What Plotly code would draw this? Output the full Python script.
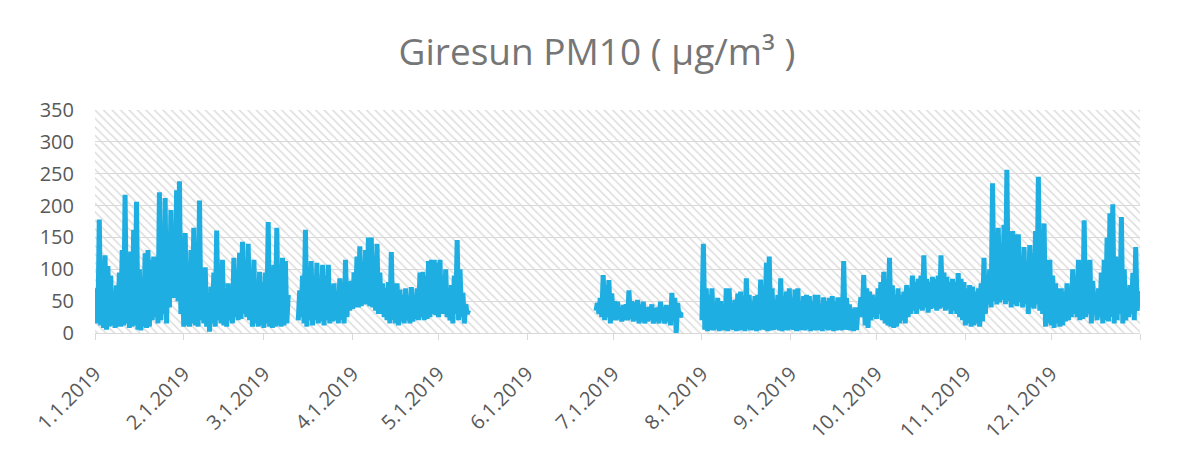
import datetime as dt
import plotly.graph_objects as go

# ---------------- data ----------------
TITLE = "Giresun PM10 ( µg/m³ )"
YEAR_START = "2019-01-01"
YEAR_END = "2020-01-01"

# first day of each measured segment
SEG_STARTS = ["2019-01-01", "2019-03-13", "2019-06-25", "2019-08-01"]

# daily upper (peak) and lower values of the hourly PM10 band, per segment
HIGH_1 = [70, 178, 60, 122, 105, 90, 40, 75, 95, 130,
          217, 70, 128, 162, 206, 100, 80, 125, 130, 115,
          120, 60, 221, 80, 212, 140, 193, 150, 224, 238,
          110, 157, 100, 130, 165, 90, 208, 70, 103, 60,
          73, 95, 161, 70, 115, 60, 78, 70, 118, 95,
          126, 143, 85, 140, 88, 115, 70, 96, 80, 95,
          174, 70, 107, 165, 60, 118, 113, 60]
LOW_1 = [15, 15, 12, 8, 5, 10, 12, 8, 10, 10,
         12, 15, 8, 10, 12, 5, 4, 10, 8, 10,
         20, 25, 15, 20, 30, 15, 40, 55, 55, 50,
         30, 10, 12, 10, 15, 12, 10, 20, 15, 10,
         2, 15, 10, 20, 15, 12, 10, 20, 15, 25,
         20, 22, 30, 25, 20, 10, 15, 10, 12, 8,
         15, 10, 8, 10, 12, 10, 12, 15]

HIGH_2 = [67, 90, 162, 70, 113, 80, 110, 85, 107, 90,
          107, 75, 78, 60, 86, 70, 115, 80, 82, 95,
          120, 136, 90, 130, 150, 150, 120, 140, 95, 78,
          70, 80, 127, 70, 78, 68, 60, 70, 55, 72,
          60, 70, 95, 96, 90, 113, 115, 115, 110, 115,
          90, 100, 68, 75, 90, 146, 100, 63, 45, 36]
LOW_2 = [20, 25, 15, 10, 20, 12, 20, 15, 18, 12,
         20, 15, 18, 20, 15, 20, 15, 25, 35, 38,
         40, 40, 42, 45, 45, 42, 40, 35, 30, 30,
         25, 20, 15, 20, 15, 12, 18, 15, 20, 15,
         18, 22, 20, 25, 20, 22, 25, 30, 28, 25,
         30, 30, 25, 20, 15, 30, 20, 25, 15, 30]

HIGH_3 = [47, 55, 91, 75, 83, 62, 50, 49, 40, 44,
          45, 67, 50, 48, 52, 45, 49, 40, 41, 45,
          39, 40, 49, 38, 44, 42, 63, 55, 47, 30,
          28]
LOW_3 = [35, 30, 25, 20, 25, 15, 20, 20, 22, 18,
         20, 20, 22, 18, 20, 15, 18, 15, 18, 20,
         15, 18, 15, 20, 15, 18, 12, 20, 0, 25,
         28]

HIGH_4 = [140, 70, 60, 70, 44, 55, 50, 45, 70, 70,
          45, 52, 62, 65, 50, 86, 60, 50, 58, 60,
          84, 60, 110, 120, 70, 52, 60, 86, 55, 65,
          70, 55, 68, 70, 50, 58, 60, 58, 50, 60,
          60, 45, 56, 50, 55, 58, 50, 56, 55, 113,
          55, 45, 38, 40, 38, 56, 91, 70, 65, 60,
          44, 70, 80, 96, 70, 118, 75, 60, 70, 60,
          65, 75, 70, 90, 80, 85, 90, 122, 85, 80,
          88, 85, 90, 122, 95, 88, 80, 85, 80, 94,
          85, 80, 70, 75, 73, 65, 70, 78, 118, 85,
          100, 235, 120, 165, 130, 170, 256, 140, 160, 155,
          155, 120, 135, 110, 138, 125, 160, 245, 140, 172,
          115, 115, 90, 78, 70, 70, 65, 78, 70, 100,
          85, 115, 110, 177, 110, 115, 82, 58, 70, 95,
          115, 150, 188, 202, 120, 105, 182, 100, 58, 75,
          94, 135, 66]
LOW_4 = [20, 5, 3, 5, 4, 6, 3, 5, 4, 3,
         6, 5, 3, 4, 5, 3, 6, 4, 5, 3,
         4, 6, 5, 3, 4, 5, 6, 4, 3, 5,
         4, 6, 5, 3, 4, 5, 4, 6, 3, 5,
         4, 5, 3, 6, 4, 5, 3, 4, 5, 4,
         6, 5, 4, 3, 5, 30, 25, 12, 8, 20,
         25, 22, 30, 20, 15, 12, 10, 8, 10, 15,
         20, 15, 25, 30, 35, 30, 38, 35, 40, 32,
         38, 40, 35, 38, 40, 35, 38, 30, 35, 30,
         25, 20, 12, 15, 10, 12, 15, 10, 18, 30,
         45, 40, 50, 45, 48, 52, 45, 50, 40, 45,
         42, 48, 40, 45, 30, 40, 38, 45, 35, 30,
         10, 15, 12, 8, 15, 10, 12, 18, 20, 25,
         30, 25, 20, 22, 25, 30, 15, 30, 20, 25,
         15, 20, 18, 25, 15, 20, 30, 15, 20, 25,
         30, 20, 35]

TICK_DATES = ["2019-01-01", "2019-02-01", "2019-03-01", "2019-04-01",
              "2019-05-01", "2019-06-01", "2019-07-01", "2019-08-01",
              "2019-09-01", "2019-10-01", "2019-11-01", "2019-12-01",
              "2020-01-01"]
TICK_TEXT = ["1.1.2019", "2.1.2019", "3.1.2019", "4.1.2019", "5.1.2019",
             "6.1.2019", "7.1.2019", "8.1.2019", "9.1.2019", "10.1.2019",
             "11.1.2019", "12.1.2019", ""]
Y_MAX = 350

SEGMENTS = [(SEG_STARTS[0], HIGH_1, LOW_1), (SEG_STARTS[1], HIGH_2, LOW_2),
            (SEG_STARTS[2], HIGH_3, LOW_3), (SEG_STARTS[3], HIGH_4, LOW_4)]

# ---------------- build the series ----------------
xs, ys = [], []
for start, highs, lows in SEGMENTS:
    assert len(highs) == len(lows)
    d0 = dt.datetime.fromisoformat(start)
    for i, (h, l) in enumerate(zip(highs, lows)):
        day = d0 + dt.timedelta(days=i)
        xs.append(day)
        ys.append(l)
        xs.append(day + dt.timedelta(hours=12))
        ys.append(h)
    xs.append(d0 + dt.timedelta(days=len(highs)))
    ys.append(None)

BLUE = "#1FAEE2"
GRID = "#d9d9d9"
FONT = "Open Sans"
TICK_FONT = dict(family=FONT, size=20, color="#595959")

fig = go.Figure()
# hatched plot-area background
fig.add_trace(go.Bar(
    x=[0.5], y=[Y_MAX], width=[1], xaxis="x", yaxis="y",
    marker=dict(color="rgba(0,0,0,0)", line=dict(width=0),
                pattern=dict(shape="\\", fgcolor="#dadada",
                             bgcolor="rgba(0,0,0,0)", size=6,
                             solidity=0.24, fillmode="replace")),
    hoverinfo="skip", showlegend=False))
# PM10 series
fig.add_trace(go.Scatter(
    x=xs, y=ys, mode="lines", xaxis="x2", yaxis="y",
    line=dict(color=BLUE, width=5), connectgaps=False,
    showlegend=False))

fig.update_layout(
    width=1164, height=439,
    margin=dict(l=87, r=32, t=102, b=114, autoexpand=False),
    paper_bgcolor="white", plot_bgcolor="white",
    font=dict(family=FONT, color="#595959", size=20),
    title=dict(text=TITLE, x=0.506, xref="container", xanchor="center",
               y=0.9, yref="container", yanchor="middle",
               font=dict(family=FONT, size=37, color="#767676")),
    bargap=0,
    xaxis=dict(range=[0, 1], visible=False, fixedrange=True,
               automargin=False),
    xaxis2=dict(overlaying="x", side="bottom", type="date",
                range=[YEAR_START, YEAR_END], automargin=False,
                tickvals=TICK_DATES, ticktext=TICK_TEXT, tickangle=-45,
                showline=True, linecolor=GRID, linewidth=1,
                ticks="outside", ticklen=6, tickcolor=GRID,
                ticklabelstandoff=14,
                showgrid=False, zeroline=False, tickfont=TICK_FONT),
    yaxis=dict(range=[0, Y_MAX], dtick=50, showgrid=True, gridcolor=GRID,
               gridwidth=1, zeroline=False, showline=False, ticks="",
               automargin=False,
               ticklabelstandoff=20, tickfont=TICK_FONT),
    shapes=[dict(type="line", xref="paper", yref="paper",
                 x0=-0.0842, x1=-0.0842, y0=-0.55, y1=1.5,
                 line=dict(color=GRID, width=1))],
)

fig.write_html("out.html")
